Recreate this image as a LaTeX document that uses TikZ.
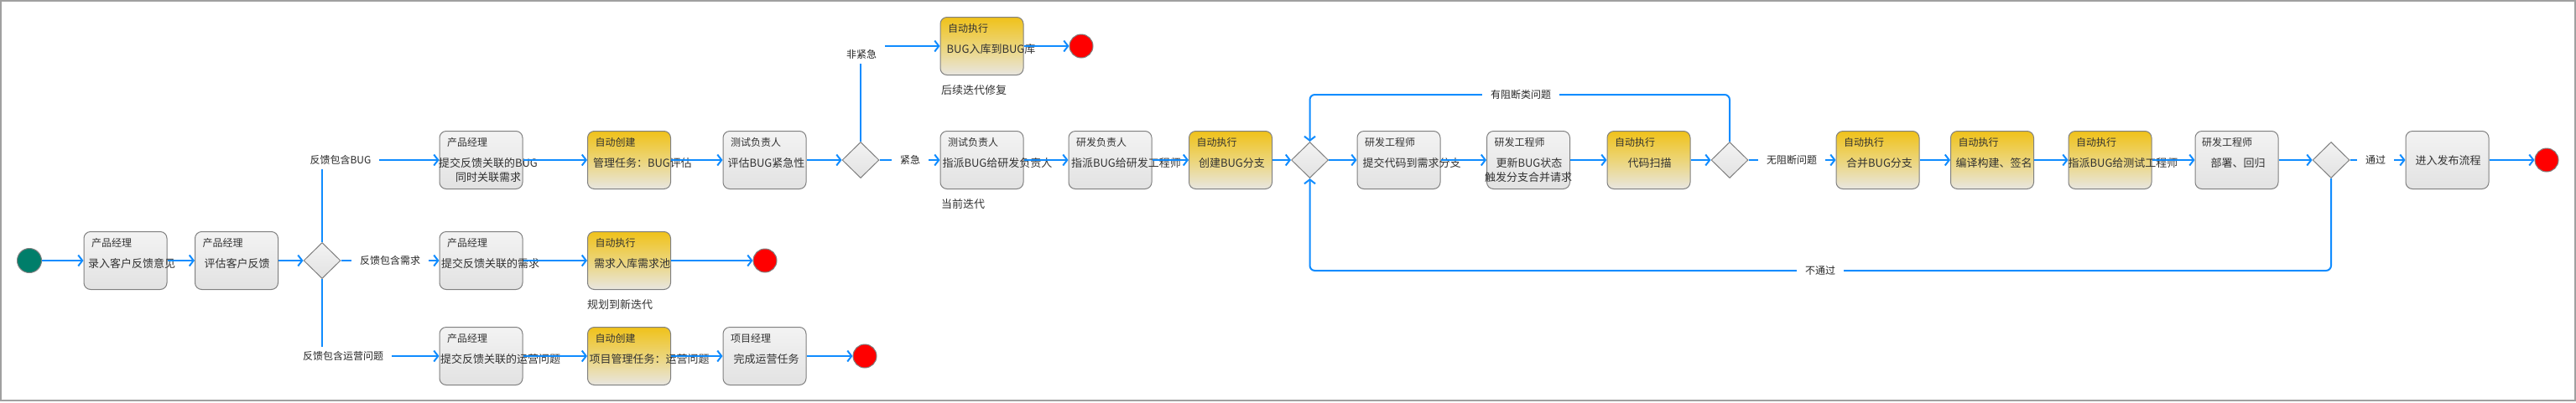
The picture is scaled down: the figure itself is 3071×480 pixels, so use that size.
\documentclass[tikz,border=0pt]{standalone}
\usepackage{fontspec}
\setmainfont{Noto Sans CJK SC}
\usetikzlibrary{arrows.meta,shapes.geometric}
\definecolor{connblue}{RGB}{16,140,255}
\definecolor{framegray}{RGB}{160,160,160}
\definecolor{bordergray}{RGB}{128,128,128}
\definecolor{gtop}{RGB}{243,243,243}
\definecolor{gbot}{RGB}{226,226,226}
\definecolor{ytop}{RGB}{240,194,26}
\definecolor{ymid}{RGB}{236,213,120}
\definecolor{ybot}{RGB}{232,230,225}
\definecolor{txtgray}{RGB}{50,50,50}
\definecolor{startgreen}{RGB}{0,126,106}
\tikzset{
  gbox/.style={draw=bordergray, line width=1pt, rounded corners=8pt, minimum width=99pt, minimum height=69pt, inner sep=0pt, top color=gtop, bottom color=gbot},
  ybox/.style={draw=bordergray, line width=1pt, rounded corners=8pt, minimum width=99pt, minimum height=69pt, inner sep=0pt, top color=ytop, bottom color=ybot, middle color=ymid},
  dia/.style={shape=diamond, draw=bordergray, line width=1pt, minimum width=44pt, minimum height=43pt, inner sep=0pt, top color=gtop, bottom color=gbot},
  endc/.style={circle, draw=bordergray, line width=1pt, fill=red, minimum size=28pt, inner sep=0pt},
  startc/.style={circle, draw=bordergray, line width=1pt, fill=startgreen, minimum size=29pt, inner sep=0pt},
  hdr/.style={font=\fontsize{12}{14}\selectfont, text=txtgray, anchor=west, inner sep=0pt},
  mtxt/.style={font=\fontsize{13}{15}\selectfont, text=txtgray, inner sep=0pt},
  note/.style={font=\fontsize{13}{15}\selectfont, text=txtgray, anchor=west, inner sep=0pt},
  lbl/.style={font=\fontsize{12}{14}\selectfont, text=black!85, fill=white, inner xsep=10pt, inner ysep=5pt},
  conn/.style={draw=connblue, line width=2pt, -{Straight Barb[length=5pt,width=13pt]}},
}
\begin{document}
\begin{tikzpicture}[x=1pt,y=-1pt]
\useasboundingbox (0,0) rectangle (3071,480);
\fill[white] (0,0) rectangle (3071,480);
\draw[framegray, line width=1.5pt] (1,1) rectangle (3070,478);

% ---------- shapes ----------
\node[startc] (start) at (35,311) {};
\node[gbox] (b1) at (149.5,311) {};
\node[gbox] (b2) at (282,311) {};
\node[dia] (d1) at (384,311) {};

\node[gbox] (bug) at (573.5,191) {};
\node[ybox] (mg) at (750,191) {};
\node[gbox] (ev) at (911.5,191) {};
\node[dia] (d2) at (1026,191) {};
\node[ybox] (ku) at (1170.5,55) {};
\node[endc] (e1) at (1289,55) {};
\node[gbox] (as1) at (1170.5,191) {};
\node[gbox] (as2) at (1323.5,191) {};
\node[ybox] (cb) at (1467,191) {};
\node[dia] (d3) at (1561.5,191) {};
\node[gbox] (sc) at (1667.5,191) {};
\node[gbox] (up) at (1822,191) {};
\node[ybox] (sn) at (1965.5,191) {};
\node[dia] (d4) at (2062,191) {};
\node[ybox] (mb) at (2238.5,191) {};
\node[ybox] (bd) at (2375,191) {};
\node[ybox] (at) at (2515.5,191) {};
\node[gbox] (dp) at (2666.5,191) {};
\node[dia] (d5) at (2779,191) {};
\node[gbox] (rel) at (2917.5,191) {};
\node[endc] (e4) at (3036,191) {};

\node[gbox] (req) at (573.5,311) {};
\node[ybox] (rq2) at (750,311) {};
\node[endc] (e2) at (912,311) {};

\node[gbox] (op) at (573.5,425) {};
\node[ybox] (op2) at (750,425) {};
\node[gbox] (op3) at (911.5,425) {};
\node[endc] (e3) at (1031,425) {};

% ---------- texts in boxes ----------
\node[hdr] (b1h) at (109,290) {产品经理};
\node[mtxt] (b1t) at (157,315) {录入客户反馈意见};
\node[hdr] (b2h) at (241.5,290) {产品经理};
\node[mtxt] (b2t) at (282.5,315) {评估客户反馈};

\node[hdr] (bugh) at (533,170) {产品经理};
\node[mtxt] (bugt1) at (582,195) {提交反馈关联的BUG};
\node[mtxt] (bugt2) at (582,212) {同时关联需求};
\node[hdr] (mgh) at (709.5,170) {自动创建};
\node[mtxt] (mgt) at (766,195) {管理任务：BUG评估};
\node[hdr] (evh) at (871,170) {测试负责人};
\node[mtxt] (evt) at (913.5,195) {评估BUG紧急性};
\node[hdr] (kuh) at (1130,34) {自动执行};
\node[mtxt] (kut) at (1181.5,59) {BUG入库到BUG库};
\node[hdr] (as1h) at (1130,170) {测试负责人};
\node[mtxt] (as1t) at (1189,195) {指派BUG给研发负责人};
\node[hdr] (as2h) at (1283,170) {研发负责人};
\node[mtxt] (as2t) at (1342.5,195) {指派BUG给研发工程师};
\node[hdr] (cbh) at (1426.5,170) {自动执行};
\node[mtxt] (cbt) at (1468.5,195) {创建BUG分支};
\node[hdr] (sch) at (1627,170) {研发工程师};
\node[mtxt] (sct) at (1683,195) {提交代码到需求分支};
\node[hdr] (uph) at (1781.5,170) {研发工程师};
\node[mtxt] (upt1) at (1823,195) {更新BUG状态};
\node[mtxt] (upt2) at (1822,212) {触发分支合并请求};
\node[hdr] (snh) at (1925,170) {自动执行};
\node[mtxt] (snt) at (1966.5,195) {代码扫描};
\node[hdr] (mbh) at (2198,170) {自动执行};
\node[mtxt] (mbt) at (2240.5,195) {合并BUG分支};
\node[hdr] (bdh) at (2334.5,170) {自动执行};
\node[mtxt] (bdt) at (2377,195) {编译构建、签名};
\node[hdr] (ath) at (2475,170) {自动执行};
\node[mtxt] (att) at (2531,195) {指派BUG给测试工程师};
\node[hdr] (dph) at (2625,170) {研发工程师};
\node[mtxt] (dpt) at (2668,195) {部署、回归};
\node[mtxt] (relt) at (2918.5,192) {进入发布流程};

\node[hdr] (reqh) at (533,290) {产品经理};
\node[mtxt] (reqt) at (584.5,315) {提交反馈关联的需求};
\node[hdr] (rq2h) at (709.5,290) {自动执行};
\node[mtxt] (rq2t) at (753.5,315) {需求入库需求池};

\node[hdr] (oph) at (533,404) {产品经理};
\node[mtxt] (opt) at (596.5,429) {提交反馈关联的运营问题};
\node[hdr] (op2h) at (709.5,404) {自动创建};
\node[mtxt] (op2t) at (774,429) {项目管理任务：运营问题};
\node[hdr] (op3h) at (871,404) {项目经理};
\node[mtxt] (op3t) at (913.5,429) {完成运营任务};

% notes
\node[note] (n1) at (1122,108) {后续迭代修复};
\node[note] (n2) at (1122,244) {当前迭代};
\node[note] (n3) at (700,364) {规划到新迭代};

% ---------- connectors ----------
\coordinate (t1) at (2062,113);
\coordinate (t2) at (1561.5,113);
\coordinate (u1) at (2779,323);
\coordinate (u2) at (1561.5,323);

\draw[conn] (start) -- (b1);
\draw[conn] (b1) -- (b2);
\draw[conn] (b2) -- (d1);
\draw[conn] (d1.north) |- (bug.west);
\draw[conn] (d1.east) -- (req.west);
\draw[conn] (d1.south) |- (op.west);
\draw[conn] (bug) -- (mg);
\draw[conn] (mg) -- (ev);
\draw[conn] (ev) -- (d2);
\draw[conn] (d2.north) |- (ku.west);
\draw[conn] (ku) -- (e1);
\draw[conn] (d2) -- (as1);
\draw[conn] (as1) -- (as2);
\draw[conn] (as2) -- (cb);
\draw[conn] (cb) -- (d3);
\draw[conn] (d3) -- (sc);
\draw[conn] (sc) -- (up);
\draw[conn] (up) -- (sn);
\draw[conn] (sn) -- (d4);
\draw[conn, rounded corners=6pt] (d4.north) -- (t1) -- (t2) -- (d3.north);
\draw[conn] (d4) -- (mb);
\draw[conn] (mb) -- (bd);
\draw[conn] (bd) -- (at);
\draw[conn] (at) -- (dp);
\draw[conn] (dp) -- (d5);
\draw[conn] (d5) -- (rel);
\draw[conn] (rel) -- (e4);
\draw[conn, rounded corners=6pt] (d5.south) -- (u1) -- (u2) -- (d3.south);
\draw[conn] (req) -- (rq2);
\draw[conn] (rq2) -- (e2);
\draw[conn] (op) -- (op2);
\draw[conn] (op2) -- (op3);
\draw[conn] (op3) -- (e3);

% ---------- connector labels ----------
\node[lbl] (l1) at (406,191) {反馈包含BUG};
\node[lbl] (l2) at (465,311) {反馈包含需求};
\node[lbl] (l3) at (409,425) {反馈包含运营问题};
\node[lbl] (l4) at (1027,65) {非紧急};
\node[lbl] (l5) at (1085,191) {紧急};
\node[lbl] (l6) at (1813,113) {有阻断类问题};
\node[lbl] (l7) at (2136,191) {无阻断问题};
\node[lbl] (l8) at (2832,191) {通过};
\node[lbl] (l9) at (2170,323) {不通过};
\end{tikzpicture}
\end{document}
